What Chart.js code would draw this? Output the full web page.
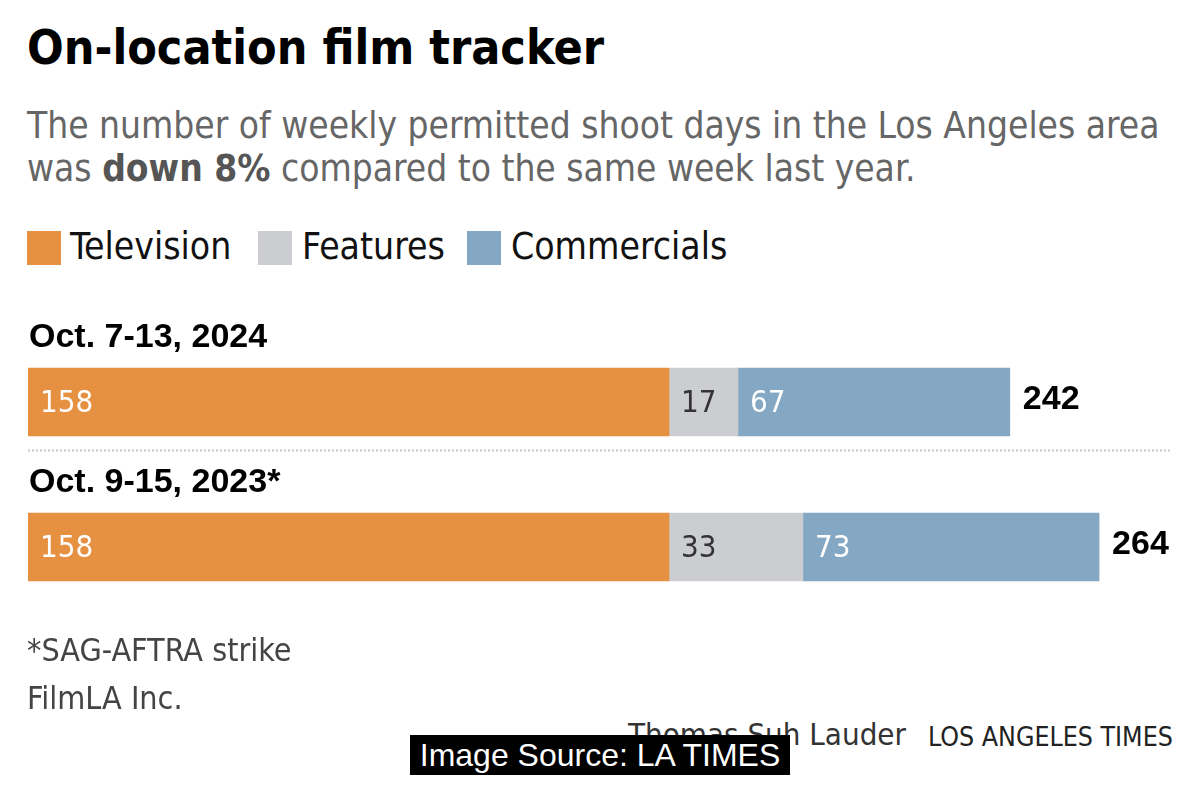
<!DOCTYPE html>
<html>
<head>
<meta charset="utf-8">
<script src="https://cdn.jsdelivr.net/npm/chart.js@4.4.1/dist/chart.umd.min.js"></script>
<style>
  html, body { margin: 0; padding: 0; background: #fff; }
  body { width: 1200px; height: 786px; position: relative; overflow: hidden; }
  .txt { position: absolute; white-space: nowrap; font-family: "Liberation Sans Narrow", "DejaVu Sans Condensed", "Liberation Sans", sans-serif; }
  #title { left: 27px; top: 19px; font-size: 48px; font-weight: bold; color: #000; }
  #sub { left: 27px; top: 104px; font-size: 36.8px; line-height: 43px; color: #666; }
  #sub b { color: #555; }
  .legend { top: 225px; font-size: 37px; color: #111; }
  .sw { position: absolute; top: 231px; width: 34px; height: 34px; }
  #note { left: 27px; top: 631px; font-size: 32px; color: #444; }
  #src { left: 27px; top: 679px; font-size: 32px; color: #444; }
  #credit { left: 628px; top: 716px; font-size: 31px; color: #333; }
  #latimes { left: 928px; top: 721px; font-size: 26.5px; color: #222; }
  #badge { position: absolute; left: 410px; top: 735px; width: 380px; height: 40px; background: #000; color: #fff;
           font-family: "Liberation Sans", Arial, sans-serif; font-size: 32px; line-height: 40px; text-align: center; }
  #wrap { position: absolute; left: 0; top: 300px; width: 1200px; height: 340px; }
</style>
</head>
<body>
<div class="txt" id="title">On-location film tracker</div>
<div class="txt" id="sub">The number of weekly permitted shoot days in the Los Angeles area<br>was <b>down 8%</b> compared to the same week last year.</div>

<div class="sw" style="left:27px;background:#E69142"></div>
<div class="txt legend" style="left:70px">Television</div>
<div class="sw" style="left:258px;background:#CBCDD1"></div>
<div class="txt legend" style="left:302px">Features</div>
<div class="sw" style="left:467px;background:#84A8C3"></div>
<div class="txt legend" style="left:511px">Commercials</div>

<div id="wrap"><canvas id="chart"></canvas></div>

<div class="txt" id="note">*SAG-AFTRA strike</div>
<div class="txt" id="src">FilmLA Inc.</div>
<div class="txt" id="credit">Thomas Suh Lauder</div>
<div class="txt" id="latimes">LOS ANGELES TIMES</div>
<div id="badge">Image Source: LA TIMES</div>

<script>
// data
const weeks = ['Oct. 7-13, 2024', 'Oct. 9-15, 2023*'];
const television = [158, 158];
const features = [17, 33];
const commercials = [67, 73];

const labelColors = ['#fff', '#333', '#fff'];

// week labels above bars, values inside segments, totals after bars, dotted divider
const barText = {
    id: 'barText',
    afterDatasetsDraw(chart) {
        const ctx = chart.ctx;
        ctx.save();
        ctx.textBaseline = 'middle';
        chart.data.datasets.forEach((ds, i) => {
            chart.getDatasetMeta(i).data.forEach((bar, j) => {
                const left = Math.min(bar.base, bar.x);
                ctx.font = '300 31px "Liberation Sans Narrow", "DejaVu Sans Condensed", sans-serif';
                ctx.fillStyle = labelColors[i];
                ctx.textAlign = 'left';
                ctx.fillText(ds.data[j], left + 12, bar.y + 2);
            });
        });
        const last = chart.getDatasetMeta(chart.data.datasets.length - 1).data;
        last.forEach((bar, j) => {
            const total = television[j] + features[j] + commercials[j];
            ctx.font = 'bold 34px "Liberation Sans", Arial, sans-serif';
            ctx.fillStyle = '#000';
            ctx.textAlign = 'left';
            ctx.fillText(total, bar.x + 13, bar.y - 2);

            ctx.font = 'bold 34px "Liberation Sans", Arial, sans-serif';
            ctx.textBaseline = 'alphabetic';
            ctx.fillText(weeks[j], 29, bar.y - bar.height / 2 - 21);
            ctx.textBaseline = 'middle';
        });
        // dotted divider
        const mid = (last[0].y + last[1].y) / 2 - 24;
        ctx.strokeStyle = '#c8c8c8';
        ctx.lineWidth = 2;
        ctx.setLineDash([2, 2]);
        ctx.beginPath();
        ctx.moveTo(28, mid);
        ctx.lineTo(1172, mid);
        ctx.stroke();
        ctx.restore();
    }
};

new Chart(document.getElementById('chart'), {
    type: 'bar',
    data: {
        labels: weeks,
        datasets: [
            { label: 'Television', data: television, backgroundColor: '#E69142' },
            { label: 'Features', data: features, backgroundColor: '#CBCDD1' },
            { label: 'Commercials', data: commercials, backgroundColor: '#84A8C3' }
        ]
    },
    options: {
        indexAxis: 'y',
        responsive: true,
        maintainAspectRatio: false,
        animation: false,
        layout: { padding: { left: 28, right: 36, top: 29.5, bottom: 20.5 } },
        datasets: { bar: { barThickness: 68, borderWidth: 0 } },
        scales: {
            x: { stacked: true, min: 0, max: 280, display: false },
            y: { stacked: true, display: false }
        },
        plugins: { legend: { display: false }, tooltip: { enabled: false } }
    },
    plugins: [barText]
});
</script>
</body>
</html>
